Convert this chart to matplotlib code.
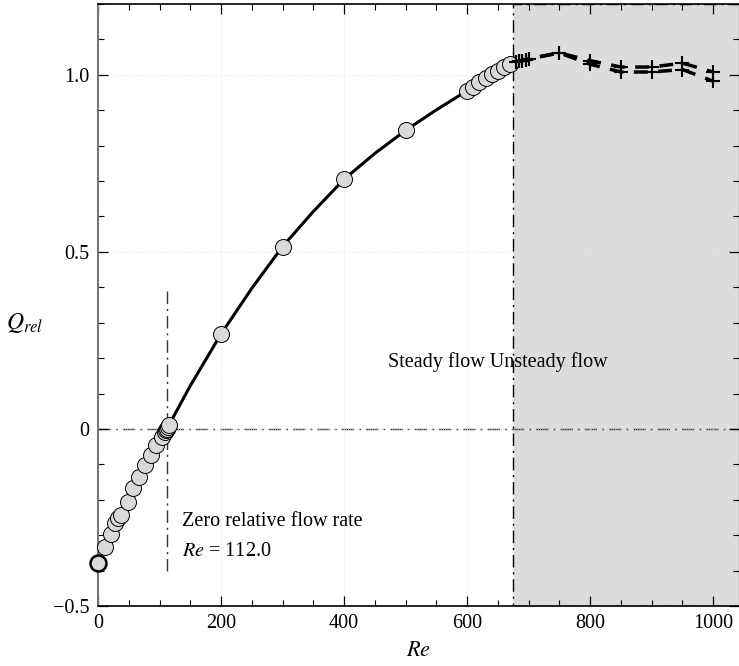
import matplotlib
matplotlib.use('Agg')
import matplotlib.pyplot as plt
from matplotlib.patches import Rectangle
from matplotlib.ticker import MultipleLocator

plt.rcParams['font.family'] = ['Liberation Serif', 'DejaVu Serif']
plt.rcParams['mathtext.fontset'] = 'stix'
plt.rcParams['font.size'] = 14.5

# steady solutions (circles)
re_steady = [0, 11, 21, 28, 33, 38, 49, 57, 67, 76, 86, 95, 104, 109, 111, 112, 113, 115,
             200, 300, 400, 500, 600, 610, 620, 630, 640, 650, 660, 670]
q_steady = [-0.379, -0.332, -0.297, -0.266, -0.252, -0.243, -0.205, -0.168, -0.135, -0.102,
            -0.073, -0.045, -0.022, -0.008, -0.003, 0.0, 0.006, 0.012,
            0.268, 0.515, 0.705, 0.843, 0.955, 0.967, 0.979, 0.990, 1.001, 1.012, 1.022, 1.031]

# fitted curve
re_curve = [112, 150, 200, 250, 300, 350, 400, 450, 500, 550, 600, 650, 675]
q_curve = [0.0, 0.122, 0.268, 0.397, 0.515, 0.614, 0.705, 0.778, 0.843, 0.901, 0.955, 1.012, 1.037]

# unsteady solutions: max / min of the oscillation
re_unsteady = [680, 685, 690, 695, 700, 750, 800, 850, 900, 950, 1000]
q_max = [1.036, 1.038, 1.040, 1.042, 1.045, 1.062, 1.040, 1.022, 1.022, 1.033, 1.008]
q_min = [1.036, 1.038, 1.040, 1.042, 1.045, 1.062, 1.030, 1.008, 1.008, 1.015, 0.982]

re_zero = 112.0
re_crit = 675

dashdot = (9, 3.5, 1.5, 3.5)

fig = plt.figure(figsize=(7.39, 6.66), dpi=100)
ax = fig.add_axes([0.1326, 0.0901, 0.8674, 0.9039])

ax.set_xlim(0, 1042)
ax.set_ylim(-0.5, 1.2)

ax.add_patch(Rectangle((re_crit, -0.5), 1042 - re_crit + 20, 1.7, facecolor='#dcdcdc',
                       edgecolor='black', linestyle=(0, dashdot), linewidth=1.0, zorder=0.5))

ax.grid(True, which='major', color='#e4e4e4', linestyle=':', linewidth=0.6, zorder=0.6)

ax.axhline(0, color='#333333', linewidth=1.0, dashes=dashdot, zorder=1)
ax.plot([re_zero, re_zero], [-0.4, 0.4], color='#333333', linewidth=1.0, dashes=dashdot, zorder=1)

ax.plot(re_curve, q_curve, color='black', linewidth=2.2, zorder=2)
ax.plot(re_steady[1:], q_steady[1:], 'o', markersize=11.5, markerfacecolor='#d9d9d9',
        markeredgecolor='black', markeredgewidth=0.7, zorder=3, clip_on=False)
ax.plot(re_steady[:1], q_steady[:1], 'o', markersize=11.5, markerfacecolor='#d9d9d9',
        markeredgecolor='black', markeredgewidth=1.8, zorder=3, clip_on=False)

for q in (q_max, q_min):
    ax.plot(re_unsteady, q, color='black', linewidth=2.5, dashes=(4, 3), zorder=2)
    ax.plot(re_unsteady, q, '+', color='black', markersize=10, markeredgewidth=1.5, zorder=3)

ax.text(137, -0.26, 'Zero relative flow rate', va='center', ha='left')
ax.text(137, -0.345, '$Re$ = 112.0', va='center', ha='left')
ax.text(471, 0.19, 'Steady flow Unsteady flow', va='center', ha='left')

ax.xaxis.set_major_locator(MultipleLocator(200))
ax.xaxis.set_minor_locator(MultipleLocator(50))
ax.yaxis.set_major_locator(MultipleLocator(0.5))
ax.yaxis.set_minor_locator(MultipleLocator(0.1))
ax.set_yticks([-0.5, 0, 0.5, 1.0])
ax.set_yticklabels(['\u22120.5', '0', '0.5', '1.0'])
ax.tick_params(which='both', direction='in', top=True, right=True, pad=6)
ax.tick_params(which='major', length=7, width=0.9)
ax.tick_params(which='minor', length=4, width=0.8)

ax.spines['left'].set_color('#777777')
ax.spines['left'].set_linewidth(1.5)
ax.spines['bottom'].set_linewidth(1.2)
ax.spines['top'].set_linewidth(1.2)

ax.set_xlabel('$Re$', labelpad=6, fontsize=16)
ax.set_ylabel('$Q_{rel}$', rotation=0, va='center', ha='center', fontsize=17)
ax.yaxis.set_label_coords(-0.114, 0.47)

fig.savefig('out.png', dpi=100)
